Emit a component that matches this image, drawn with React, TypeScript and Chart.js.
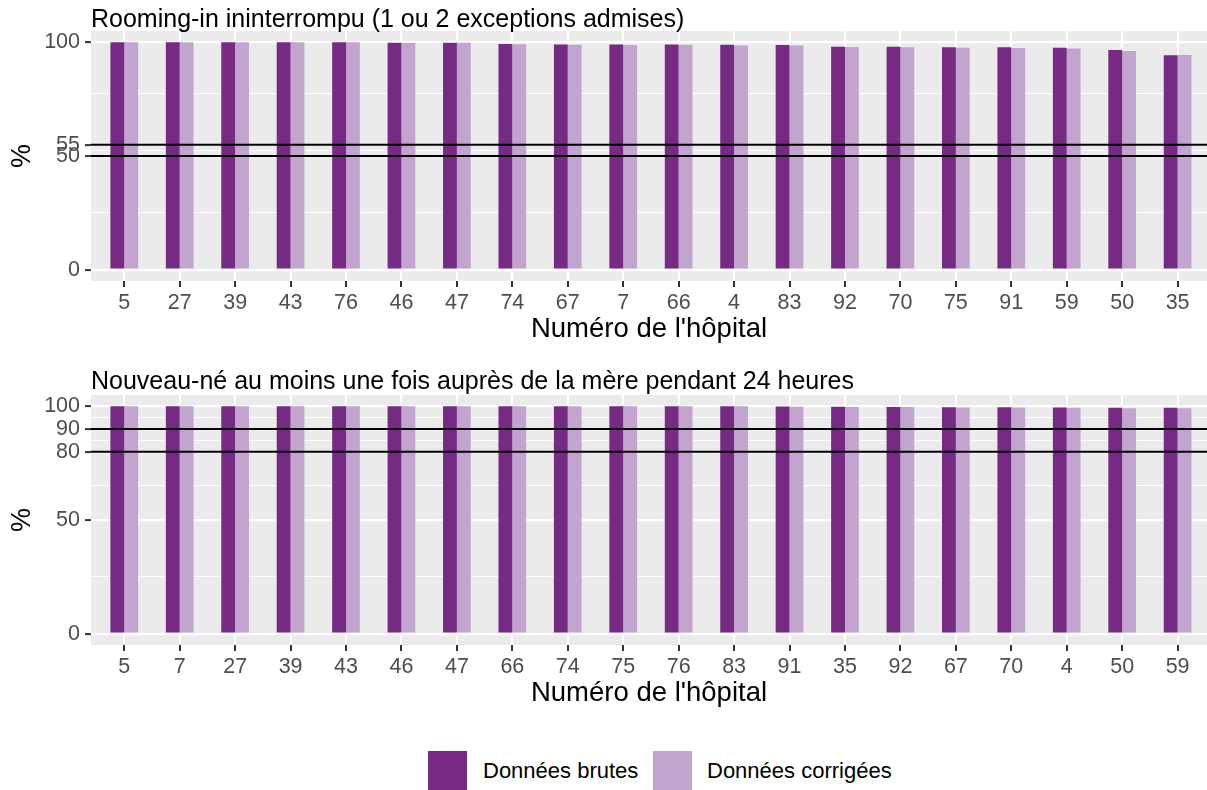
import React, { useEffect, useRef } from "react";
import { Chart, registerables } from "chart.js";

Chart.register(...registerables);

// ---------- data ----------
const hospitalsTop = ["5", "27", "39", "43", "76", "46", "47", "74", "67", "7", "66", "4", "83", "92", "70", "75", "91", "59", "50", "35"];
const brutesTop = [100, 100, 100, 100, 100, 99.85, 99.85, 99.25, 99.1, 99.1, 99.1, 98.95, 98.8, 98.1, 98.1, 97.8, 97.8, 97.6, 96.6, 94.3];
const corrigeesTop = [100, 100, 100, 100, 100, 99.7, 99.8, 99.2, 99.0, 98.8, 99.0, 98.65, 98.65, 97.95, 97.8, 97.65, 97.5, 97.35, 96.15, 94.4];
const majorTicksTop = [0, 50, 55, 100];
const minorTicksTop = [25, 52.5, 77.5];
const refLinesTop = [50, 55];
const titleTop = "Rooming-in ininterrompu (1 ou 2 exceptions admises)";

const hospitalsBottom = ["5", "7", "27", "39", "43", "46", "47", "66", "74", "75", "76", "83", "91", "35", "92", "67", "70", "4", "50", "59"];
const brutesBottom = [100, 100, 100, 100, 100, 100, 100, 100, 100, 100, 100, 100, 99.9, 99.8, 99.75, 99.65, 99.6, 99.5, 99.35, 99.35];
const corrigeesBottom = [100, 100, 100, 100, 100, 100, 100, 100, 100, 100, 100, 100, 99.85, 99.75, 99.7, 99.55, 99.45, 99.35, 99.2, 99.2];
const majorTicksBottom = [0, 50, 80, 90, 100];
const minorTicksBottom = [25, 65, 85, 95];
const refLinesBottom = [80, 90];
const titleBottom = "Nouveau-né au moins une fois auprès de la mère pendant 24 heures";

const seriesNames = ["Données brutes", "Données corrigées"];
const xAxisTitle = "Numéro de l'hôpital";
const yAxisTitle = "%";

// ---------- styles ----------
const DARK = "#762A83";
const LIGHT = "#C2A5CF";
const FONT = "'Liberation Sans', Arial, Helvetica, sans-serif";
const PANEL_BG = "#EBEBEB";
const TICK_COLOR = "#333333";
const CANVAS_W = 1207;
const CANVAS_H = 346;

const panelBg = {
  id: "panelBg",
  beforeDraw(chart: any) {
    const { ctx, chartArea } = chart;
    ctx.save();
    ctx.fillStyle = PANEL_BG;
    ctx.fillRect(chartArea.left, chartArea.top, chartArea.right - chartArea.left, chartArea.bottom - chartArea.top);
    ctx.restore();
  },
};

// small tick marks under the x axis, at the x scale's own ticks
const xTickMarks = {
  id: "xTickMarks",
  afterDraw(chart: any) {
    const { ctx, chartArea, scales } = chart;
    const xs = scales.x;
    ctx.save();
    ctx.strokeStyle = TICK_COLOR;
    ctx.lineWidth = 2;
    xs.ticks.forEach((_: any, i: number) => {
      const x = Math.round(xs.getPixelForTick(i));
      ctx.beginPath();
      ctx.moveTo(x, chartArea.bottom);
      ctx.lineTo(x, chartArea.bottom + 6);
      ctx.stroke();
    });
    ctx.restore();
  },
};

function makeRefLines(refs: number[]) {
  return {
    id: "refLines",
    afterDatasetsDraw(chart: any) {
      const { ctx, chartArea, scales } = chart;
      ctx.save();
      ctx.strokeStyle = "#000000";
      ctx.lineWidth = 2;
      refs.forEach((v) => {
        const y = scales.y.getPixelForValue(v);
        ctx.beginPath();
        ctx.moveTo(chartArea.left, y);
        ctx.lineTo(chartArea.right, y);
        ctx.stroke();
      });
      ctx.restore();
    },
  };
}

type PanelProps = {
  labels: string[];
  brutes: number[];
  corrigees: number[];
  majors: number[];
  minors: number[];
  refs: number[];
};

function Panel({ labels, brutes, corrigees, majors, minors, refs }: PanelProps) {
  const ref = useRef<HTMLCanvasElement | null>(null);
  useEffect(() => {
    if (!ref.current) return;
    const allTicks = [...majors, ...minors].sort((a, b) => a - b);
    const isMajor = (v: any) => majors.includes(v);
    const chart = new Chart(ref.current, {
      type: "bar",
      data: {
        datasets: [
          {
            label: seriesNames[0],
            data: brutes.map((v, i) => ({ x: i, y: v })),
            backgroundColor: DARK,
            borderWidth: 0,
            barPercentage: 1,
            categoryPercentage: 0.5,
          },
          {
            label: seriesNames[1],
            data: corrigees.map((v, i) => ({ x: i, y: v })),
            backgroundColor: LIGHT,
            borderWidth: 0,
            barPercentage: 1,
            categoryPercentage: 0.5,
          },
        ],
      } as any,
      options: {
        animation: false,
        responsive: false,
        devicePixelRatio: 1,
        layout: { padding: { top: 31, right: 0, bottom: 0, left: 0 } },
        plugins: { legend: { display: false }, tooltip: { enabled: false }, title: { display: false } },
        scales: {
          x: {
            type: "linear",
            min: -0.6,
            max: 19.53,
            offset: false,
            afterBuildTicks: (s: any) => {
              s.ticks = labels.map((_, i) => ({ value: i }));
            },
            afterFit: (s: any) => {
              s.height = 65;
            },
            ticks: {
              autoSkip: false,
              maxRotation: 0,
              padding: 3,
              color: "#4D4D4D",
              font: { family: FONT, size: 21.5 },
              callback: (v: any) => labels[v] ?? "",
            },
            grid: { offset: false, color: "#FFFFFF", lineWidth: 2, tickColor: TICK_COLOR, tickLength: 6, tickWidth: 2 },
            border: { display: false },
            title: { display: true, text: xAxisTitle, color: "#000000", font: { family: FONT, size: 27.5 }, padding: 0 },
          },
          y: {
            type: "linear",
            min: -5,
            max: 105,
            afterBuildTicks: (s: any) => {
              s.ticks = allTicks.map((v) => ({ value: v }));
            },
            afterFit: (s: any) => {
              s.width = 91;
            },
            ticks: {
              autoSkip: false,
              padding: 5,
              color: "#4D4D4D",
              font: { family: FONT, size: 21.5 },
              callback: (v: any) => (isMajor(v) ? String(v) : ""),
            },
            grid: {
              color: "#FFFFFF",
              lineWidth: (c: any) => (isMajor(c.tick?.value) ? 2.2 : 1.1),
              tickColor: (c: any) => (isMajor(c.tick?.value) ? TICK_COLOR : "rgba(0,0,0,0)"),
              tickLength: 6,
              tickWidth: 2,
            },
            border: { display: false },
            title: { display: true, text: yAxisTitle, color: "#000000", font: { family: FONT, size: 27 }, padding: { top: 6, bottom: 0 } },
          },
        },
      } as any,
      plugins: [panelBg, makeRefLines(refs), xTickMarks],
    });
    return () => chart.destroy();
  }, []);
  return <canvas ref={ref} width={CANVAS_W} height={CANVAS_H} style={{ display: "block" }} />;
}

const titleStyle: React.CSSProperties = {
  position: "absolute",
  left: 91,
  fontFamily: FONT,
  fontSize: 25,
  color: "#000",
  whiteSpace: "nowrap",
  lineHeight: "normal",
};

export default function App() {
  return (
    <div style={{ position: "absolute", left: 0, top: 0, width: CANVAS_W, height: 790, background: "#fff", overflow: "hidden" }}>
      <div style={{ position: "absolute", left: 0, top: 0 }}>
        <Panel labels={hospitalsTop} brutes={brutesTop} corrigees={corrigeesTop} majors={majorTicksTop} minors={minorTicksTop} refs={refLinesTop} />
      </div>
      <div style={{ ...titleStyle, top: 4 }}>{titleTop}</div>
      <div style={{ position: "absolute", left: 0, top: 364 }}>
        <Panel labels={hospitalsBottom} brutes={brutesBottom} corrigees={corrigeesBottom} majors={majorTicksBottom} minors={minorTicksBottom} refs={refLinesBottom} />
      </div>
      <div style={{ ...titleStyle, top: 365.5 }}>{titleBottom}</div>
      {/* legend */}
      <div style={{ position: "absolute", left: 427.5, top: 751, width: 39.5, height: 40, background: DARK }} />
      <div style={{ position: "absolute", left: 483, top: 758, fontFamily: FONT, fontSize: 22, color: "#000", whiteSpace: "nowrap", lineHeight: "normal" }}>{seriesNames[0]}</div>
      <div style={{ position: "absolute", left: 652.5, top: 751, width: 39.5, height: 40, background: LIGHT }} />
      <div style={{ position: "absolute", left: 707, top: 758, fontFamily: FONT, fontSize: 22, color: "#000", whiteSpace: "nowrap", lineHeight: "normal" }}>{seriesNames[1]}</div>
    </div>
  );
}
